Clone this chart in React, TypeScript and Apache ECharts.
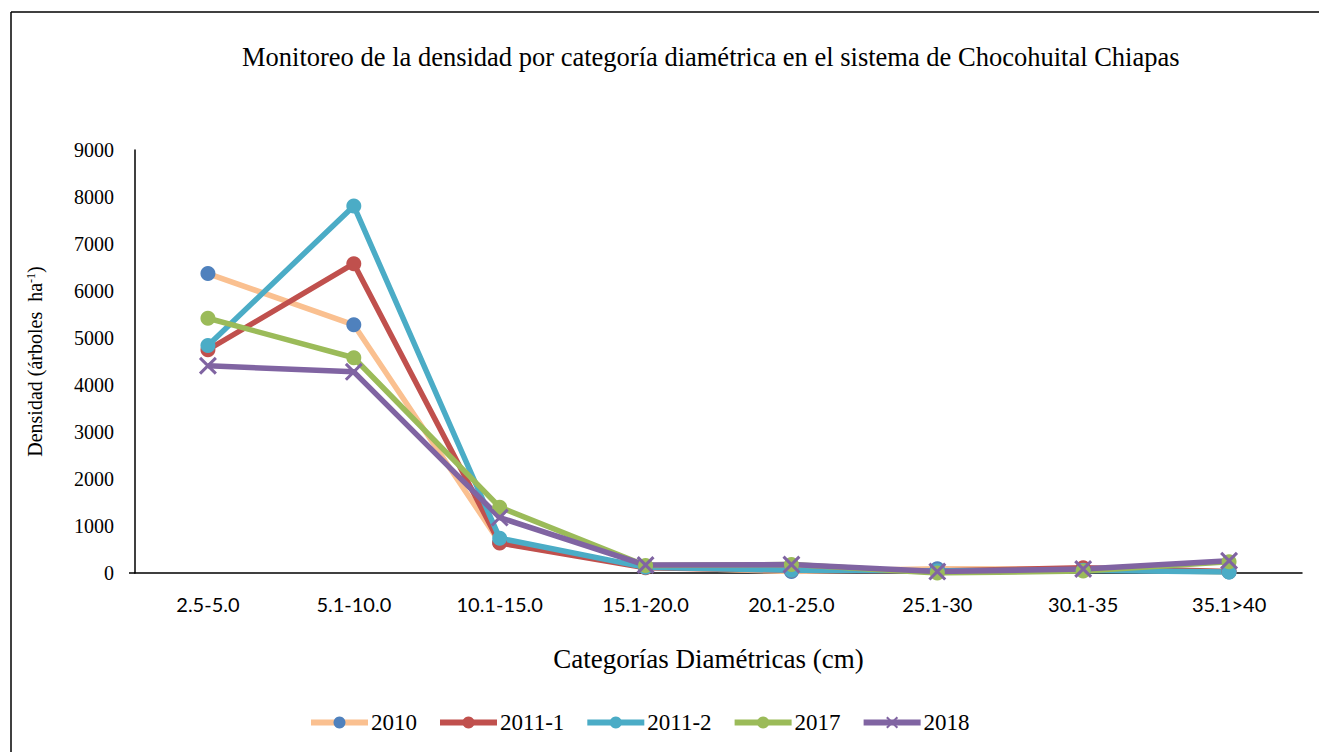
import React, { useEffect, useRef } from "react";
import * as echarts from "echarts";

const categories = ["2.5-5.0", "5.1-10.0", "10.1-15.0", "15.1-20.0", "20.1-25.0", "25.1-30", "30.1-35", "35.1>40"];
const s2010 = [6370, 5280, 650, 130, 30, 90, 80, 20];
const s2011a = [4750, 6580, 640, 110, 60, 40, 110, 30];
const s2011b = [4840, 7810, 740, 120, 60, 50, 60, 20];
const s2017 = [5420, 4580, 1400, 160, 180, 0, 40, 240];
const s2018 = [4410, 4280, 1180, 170, 180, 30, 85, 260];
const yTicks = [0, 1000, 2000, 3000, 4000, 5000, 6000, 7000, 8000, 9000];

const SERIF = "'Liberation Serif', 'Times New Roman', serif";
const XSYM = "path://M0,1.2 L1.2,0 L10,8.8 L8.8,10 Z M8.8,0 L10,1.2 L1.2,10 L0,8.8 Z";

export default function App() {
  const ref = useRef<HTMLDivElement>(null);
  useEffect(() => {
    const chart = echarts.init(ref.current!, undefined, { renderer: "svg" });
    const mk = (name: string, data: number[], lineColor: string, markColor: string, symbol = "circle", size = 15) => ({
      name,
      type: "line",
      data,
      symbol,
      symbolSize: size,
      showSymbol: true,
      lineStyle: { color: lineColor, width: 5.5 },
      itemStyle: { color: markColor },
      emphasis: { disabled: true },
    });
    chart.setOption({
      animation: false,
      backgroundColor: "#ffffff",
      title: {
        text: "Monitoreo de la densidad por categoría diamétrica en el sistema de Chocohuital Chiapas",
        left: 237,
        top: 38,
        textStyle: { fontFamily: SERIF, fontSize: 26.5, fontWeight: "normal", color: "#000" },
      },
      grid: { left: 135, right: 17, top: 150, bottom: 179 },
      legend: {
        bottom: 13,
        left: 303,
        itemWidth: 57,
        itemHeight: 15,
        itemGap: 20,
        lineStyle: { width: 6 },
        textStyle: { fontFamily: SERIF, fontSize: 23, color: "#000", padding: [0, 0, 0, -2] },
        data: ["2010", "2011-1", "2011-2", "2017", "2018"],
      },
      xAxis: {
        type: "category",
        data: categories,
        boundaryGap: true,
        axisLine: { lineStyle: { color: "#000", width: 1.5 } },
        axisTick: { show: false },
        axisLabel: { fontFamily: "Lato, 'Open Sans', sans-serif", fontSize: 20, color: "#000", margin: 21, interval: 0 },
        name: "Categorías Diamétricas (cm)",
        nameLocation: "middle",
        nameGap: 72,
        nameTextStyle: { fontFamily: SERIF, fontSize: 27, color: "#000", padding: [0, 20, 0, 0] },
      },
      yAxis: {
        type: "value",
        min: yTicks[0],
        max: yTicks[yTicks.length - 1],
        interval: 1000,
        axisLine: { show: true, lineStyle: { color: "#000", width: 1.5 } },
        axisTick: { show: false },
        splitLine: { show: false },
        axisLabel: { fontFamily: SERIF, fontSize: 20, color: "#000", margin: 21, formatter: (v: number) => String(v) },
        name: "Densidad (árboles  ha{sup|-1})",
        nameLocation: "middle",
        nameGap: 90,
        nameTextStyle: {
          fontFamily: SERIF,
          fontSize: 20,
          color: "#000",
          rich: {
            sup: { fontFamily: SERIF, fontSize: 12, verticalAlign: "top", lineHeight: 12, color: "#000", padding: [0, 0, 10, 0] },
          },
        },
      },
      graphic: [
        { type: "line", shape: { x1: 11, y1: 12, x2: 1319, y2: 12 }, style: { stroke: "#000", lineWidth: 1.5 } },
        { type: "line", shape: { x1: 11, y1: 12, x2: 11, y2: 752 }, style: { stroke: "#000", lineWidth: 1.5 } },
        { type: "line", shape: { x1: 129, y1: 573, x2: 135, y2: 573 }, style: { stroke: "#000", lineWidth: 1.5 } },
      ],
      series: [
        mk("2010", s2010, "#FAC090", "#4F81BD"),
        mk("2011-1", s2011a, "#C0504D", "#C0504D"),
        mk("2011-2", s2011b, "#4BACC6", "#4BACC6"),
        mk("2017", s2017, "#9BBB59", "#9BBB59"),
        mk("2018", s2018, "#8064A2", "#8064A2", XSYM, 18),
      ],
    });
    return () => chart.dispose();
  }, []);
  return <div ref={ref} style={{ width: 1319, height: 752, position: "absolute", left: 0, top: 0 }} />;
}
